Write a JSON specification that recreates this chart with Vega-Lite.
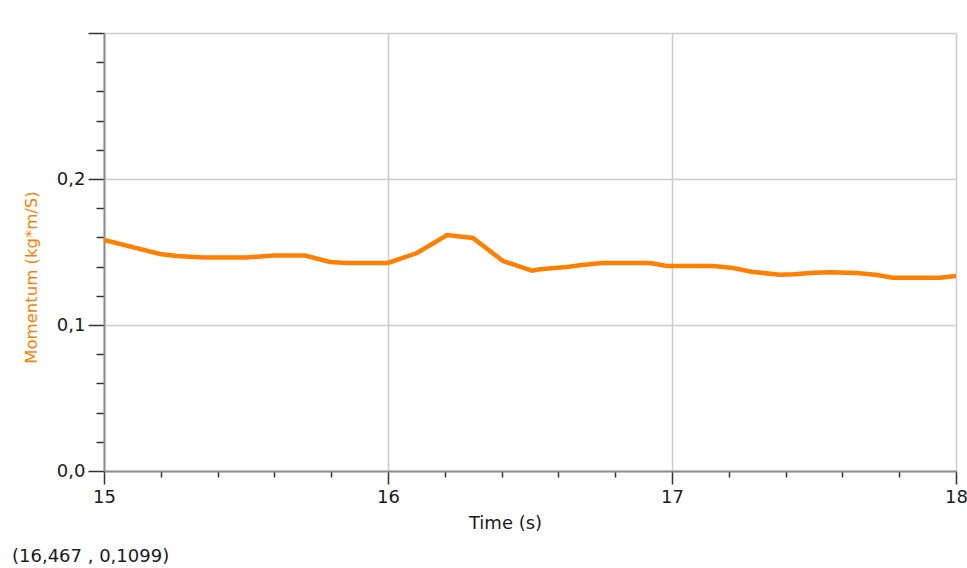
{
  "$schema": "https://vega.github.io/schema/vega-lite/v6.json",
  "width": 852,
  "height": 438,
  "autosize": "none",
  "padding": {"left": 104, "top": 33, "right": 11, "bottom": 97},
  "background": "white",
  "config": {
    "view": {"stroke": null},
    "font": "DejaVu Sans",
    "axis": {
      "domainColor": "#8c8c8c",
      "domainWidth": 2,
      "tickColor": "#333333",
      "tickWidth": 1.5,
      "gridColor": "#cccccc",
      "gridWidth": 1.5,
      "labelFont": "DejaVu Sans",
      "labelFontSize": 18,
      "labelColor": "#1a1a1a",
      "titleFont": "DejaVu Sans",
      "titleFontWeight": "normal",
      "labelOverlap": false,
      "labelBound": false,
      "labelFlush": false
    }
  },
  "title": {
    "text": "(16,467 , 0,1099)",
    "orient": "bottom",
    "anchor": "start",
    "frame": "group",
    "dx": -92,
    "offset": 16,
    "font": "DejaVu Sans",
    "fontSize": 18,
    "fontWeight": "normal",
    "color": "#1a1a1a"
  },
  "data": {
    "values": [
      {"t": 15.0, "p": 0.1582},
      {"t": 15.197, "p": 0.1486},
      {"t": 15.257, "p": 0.1473},
      {"t": 15.349, "p": 0.1462},
      {"t": 15.5, "p": 0.1462},
      {"t": 15.6, "p": 0.1476},
      {"t": 15.708, "p": 0.1476},
      {"t": 15.796, "p": 0.1432},
      {"t": 15.856, "p": 0.1425},
      {"t": 16.0, "p": 0.1425},
      {"t": 16.102, "p": 0.1493},
      {"t": 16.208, "p": 0.1616},
      {"t": 16.299, "p": 0.1596},
      {"t": 16.405, "p": 0.1438},
      {"t": 16.507, "p": 0.1372},
      {"t": 16.535, "p": 0.1382},
      {"t": 16.63, "p": 0.1397},
      {"t": 16.683, "p": 0.1411},
      {"t": 16.754, "p": 0.1425},
      {"t": 16.923, "p": 0.1425},
      {"t": 16.982, "p": 0.1404},
      {"t": 17.144, "p": 0.1404},
      {"t": 17.215, "p": 0.139},
      {"t": 17.285, "p": 0.1363},
      {"t": 17.38, "p": 0.1345},
      {"t": 17.43, "p": 0.1348},
      {"t": 17.5, "p": 0.1358},
      {"t": 17.556, "p": 0.1362},
      {"t": 17.651, "p": 0.1356},
      {"t": 17.722, "p": 0.1342},
      {"t": 17.778, "p": 0.1324},
      {"t": 17.944, "p": 0.1324},
      {"t": 18.0, "p": 0.1336}
    ]
  },
  "mark": {"type": "line", "color": "#ff8000", "strokeWidth": 4.5, "clip": true},
  "encoding": {
    "x": {
      "field": "t",
      "type": "quantitative",
      "scale": {"domain": [15, 18], "nice": false, "zero": false},
      "axis": {
        "title": "Time (s)",
        "titleFontSize": 18,
        "titleColor": "#1a1a1a",
        "titleX": 401,
        "titleY": 57,
        "titleBaseline": "alphabetic",
        "titleAlign": "center",
        "values": [15, 15.2, 15.4, 15.6, 15.8, 16, 16.2, 16.4, 16.6, 16.8, 17, 17.2, 17.4, 17.6, 17.8, 18],
        "labelExpr": "abs(datum.value - round(datum.value)) < 0.001 ? format(datum.value, 'd') : ''",
        "labelPadding": 4,
        "tickSize": {"condition": {"test": "abs(datum.value - round(datum.value)) < 0.001", "value": 13}, "value": 6},
        "grid": true,
        "gridOpacity": {"condition": {"test": "abs(datum.value - round(datum.value)) < 0.001", "value": 1}, "value": 0}
      }
    },
    "y": {
      "field": "p",
      "type": "quantitative",
      "scale": {"domain": [0, 0.3], "nice": false, "zero": true},
      "axis": {
        "title": "Momentum (kg*m/S)",
        "titleColor": "#ff8000",
        "titleFontSize": 16.5,
        "titleX": -73,
        "titleY": 244,
        "titleAngle": 270,
        "titleAlign": "center",
        "titleBaseline": "middle",
        "values": [0, 0.02, 0.04, 0.06, 0.08, 0.1, 0.12, 0.14, 0.16, 0.18, 0.2, 0.22, 0.24, 0.26, 0.28, 0.3],
        "labelExpr": "abs(datum.value * 10 - round(datum.value * 10)) < 0.001 && datum.value < 0.25 ? replace(format(datum.value, '.1f'), '.', ',') : ''",
        "labelPadding": 3,
        "tickSize": {"condition": {"test": "abs(datum.value * 10 - round(datum.value * 10)) < 0.001", "value": 16}, "value": 8},
        "grid": true,
        "gridOpacity": {"condition": {"test": "abs(datum.value * 10 - round(datum.value * 10)) < 0.001", "value": 1}, "value": 0}
      }
    }
  }
}
